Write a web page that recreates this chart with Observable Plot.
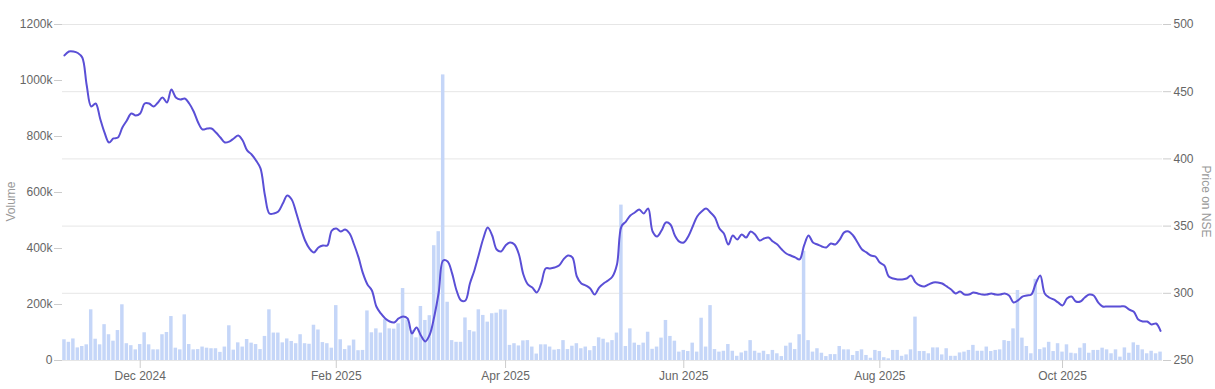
<!DOCTYPE html>
<html>
<head>
<meta charset="utf-8">
<script src="https://cdn.jsdelivr.net/npm/d3@7"></script>
<script src="https://cdn.jsdelivr.net/npm/@observablehq/plot@0.6"></script>
<style>
  html, body { margin: 0; padding: 0; background: #ffffff; }
  #chart { width: 1215px; height: 389px; }
</style>
</head>
<body>
<div id="chart"></div>
<script>
// ---- Trading calendar (categories) ----
const startDate = "2024-11-05";
const endDate = "2025-11-06";
const holidays = [
  "2024-11-15", "2024-11-20", "2024-12-25",
  "2025-02-26", "2025-03-14", "2025-03-31", "2025-04-10", "2025-04-14",
  "2025-04-18", "2025-05-01", "2025-08-15", "2025-08-27", "2025-10-02",
  "2025-10-21", "2025-10-22", "2025-11-05"
];

// ---- Daily traded volume (thousands of shares) ----
const volume = [
  74, 65, 77, 45, 50, 56, 181, 76, 56, 128,
  92, 69, 107, 199, 60, 53, 38, 57, 99, 56,
  38, 38, 92, 100, 157, 44, 38, 163, 57, 38,
  39, 48, 44, 42, 42, 29, 48, 124, 37, 63,
  48, 75, 62, 57, 39, 86, 181, 98, 98, 63,
  77, 68, 60, 92, 60, 58, 126, 109, 64, 60,
  44, 196, 74, 39, 52, 73, 35, 36, 177, 99,
  113, 98, 146, 113, 112, 131, 257, 145, 107, 81,
  193, 143, 160, 410, 460, 1020, 208, 71, 65, 65,
  152, 107, 102, 181, 161, 137, 167, 169, 181, 180,
  54, 60, 52, 70, 71, 48, 23, 56, 56, 48,
  37, 39, 71, 39, 51, 60, 42, 48, 35, 50,
  81, 76, 63, 71, 98, 555, 50, 113, 62, 54,
  62, 101, 40, 48, 80, 143, 86, 69, 30, 36,
  32, 62, 30, 151, 48, 196, 39, 30, 33, 57,
  33, 15, 27, 33, 71, 33, 26, 33, 21, 36,
  24, 14, 51, 62, 39, 92, 390, 71, 30, 42,
  26, 14, 21, 21, 50, 38, 38, 18, 32, 38,
  18, 8, 36, 32, 10, 6, 36, 36, 15, 20,
  38, 155, 32, 32, 24, 45, 45, 20, 42, 15,
  15, 27, 30, 36, 54, 33, 33, 48, 32, 36,
  38, 71, 68, 113, 250, 80, 50, 24, 290, 39,
  45, 65, 32, 60, 30, 56, 26, 24, 44, 60,
  26, 36, 36, 44, 38, 24, 38, 12, 45, 26,
  63, 54, 38, 24, 33, 24, 30
];

// ---- Closing price on NSE ----
const price = [
  477.0, 479.9, 479.9, 478.8, 475.4, 454.6, 439.0, 441.2, 430.1, 419.6,
  412.2, 415.2, 415.9, 423.4, 428.6, 433.8, 432.3, 433.8, 441.2, 441.2,
  439.0, 442.0, 445.7, 442.0, 451.6, 445.7, 444.2, 444.9, 441.2, 435.3,
  427.1, 421.9, 422.6, 422.6, 419.6, 415.9, 412.2, 412.9, 415.2, 417.4,
  413.7, 406.3, 403.3, 398.8, 392.9, 372.8, 359.4, 359.4, 360.9, 366.8,
  372.8, 369.8, 360.1, 349.0, 339.3, 333.3, 330.4, 334.1, 335.6, 335.6,
  346.7, 348.2, 346.0, 347.5, 344.5, 336.3, 326.7, 314.8, 306.6, 302.1,
  290.2, 285.0, 281.3, 279.0, 278.3, 281.3, 282.8, 281.3, 270.1, 274.6,
  268.6, 264.2, 269.4, 282.8, 300.6, 324.4, 323.7, 314.8, 302.1, 294.7,
  294.7, 307.3, 317.0, 328.9, 340.8, 349.0, 343.0, 332.6, 331.1, 335.6,
  337.8, 336.3, 328.9, 314.0, 306.6, 304.3, 300.6, 307.3, 318.5, 318.5,
  319.2, 320.7, 325.2, 328.1, 326.7, 312.5, 307.3, 305.8, 303.6, 299.1,
  304.3, 307.3, 309.5, 312.5, 321.4, 349.7, 353.4, 357.9, 360.1, 362.4,
  359.4, 363.1, 346.0, 342.3, 346.7, 352.7, 351.2, 343.0, 338.5, 337.8,
  342.3, 349.7, 357.2, 360.9, 363.1, 360.1, 356.4, 348.2, 344.5, 336.3,
  343.0, 340.0, 343.8, 341.5, 346.0, 343.8, 339.3, 340.8, 341.5, 338.5,
  336.3, 332.6, 329.6, 328.1, 326.7, 325.2, 335.6, 343.0, 337.8, 336.3,
  334.8, 334.1, 337.1, 336.3, 340.0, 345.3, 346.0, 343.0, 337.8, 332.6,
  330.4, 328.1, 327.4, 322.9, 320.7, 312.5, 311.0, 310.3, 310.3, 311.0,
  313.3, 308.1, 305.8, 305.1, 306.6, 308.1, 308.1, 307.3, 305.1, 302.8,
  299.9, 301.4, 299.1, 299.1, 300.6, 299.9, 299.1, 299.1, 299.9, 299.1,
  299.1, 299.9, 298.4, 293.2, 294.7, 297.6, 298.4, 299.1, 307.3, 313.3,
  299.9, 296.9, 295.4, 293.2, 290.9, 296.1, 297.6, 293.9, 293.9, 296.9,
  299.1, 298.4, 293.2, 290.2, 290.2, 290.2, 290.2, 290.2, 290.2, 287.8,
  286.3, 280.5, 279.0, 279.0, 276.8, 277.5, 272.0
];

// ---- Axis ticks and labels ----
const tickMonths = ["2024-12", "2025-02", "2025-04", "2025-06", "2025-08", "2025-10"];
const tickMonthLabels = ["Dec 2024", "Feb 2025", "Apr 2025", "Jun 2025", "Aug 2025", "Oct 2025"];
const volumeTicks = [0, 200, 400, 600, 800, 1000, 1200];
const priceTicks = [250, 300, 350, 400, 450, 500];
const volumeTitle = "Volume";
const priceTitle = "Price on NSE";

// ---- Build trading days ----
const days = [];
for (let d = new Date(startDate + "T00:00:00Z"); d <= new Date(endDate + "T00:00:00Z"); d.setUTCDate(d.getUTCDate() + 1)) {
  const dow = d.getUTCDay();
  const iso = d.toISOString().slice(0, 10);
  if (dow === 0 || dow === 6 || holidays.includes(iso)) continue;
  days.push(iso);
}
const n = Math.min(days.length, volume.length, price.length);
const rows = d3.range(n).map(i => ({date: days[i], volume: volume[i], price: price[i]}));

// price -> volume-scale mapping for the secondary axis
const volumeMax = volumeTicks[volumeTicks.length - 1];
const priceMin = priceTicks[0], priceMax = priceTicks[priceTicks.length - 1];
const toY = p => (p - priceMin) / (priceMax - priceMin) * volumeMax;
const fromY = v => priceMin + v / volumeMax * (priceMax - priceMin);

const tickDates = tickMonths.map(m => days.find(d => d.startsWith(m)));

const chart = Plot.plot({
  width: 1215,
  height: 389,
  marginLeft: 62,
  marginRight: 53,
  marginTop: 24,
  marginBottom: 29,
  style: {
    fontFamily: "'Liberation Sans', Arial, Helvetica, sans-serif",
    fontSize: "12px",
    background: "#ffffff",
    color: "#666666"
  },
  x: {type: "band", domain: days.slice(0, n), paddingInner: 0.22, paddingOuter: 0.05},
  y: {domain: [0, volumeMax]},
  marks: [
    Plot.gridY({ticks: priceTicks.map(toY), stroke: "#e6e6e6", strokeOpacity: 1, strokeWidth: 1}),
    Plot.barY(rows, {x: "date", y: "volume", fill: "#c5d6f8"}),
    Plot.line(rows, {x: "date", y: d => toY(d.price), stroke: "#5a4fd6", strokeWidth: 2, curve: "catmull-rom"}),
    Plot.axisY({
      anchor: "left", ticks: volumeTicks, label: null,
      tickFormat: v => v === 0 ? "0" : v + "k",
      tickSize: 8, tickPadding: 2, stroke: "#cccccc", fill: "#666666", fontSize: 12
    }),
    Plot.axisY({
      anchor: "right", ticks: priceTicks.map(toY), label: null,
      tickFormat: v => String(Math.round(fromY(v))),
      tickSize: 8, tickPadding: 3, stroke: "#cccccc", fill: "#666666", fontSize: 12
    }),
    Plot.axisX({
      ticks: tickDates, label: null,
      tickFormat: d => tickMonthLabels[tickDates.indexOf(d)],
      tickSize: 8, tickPadding: 3, stroke: "#cccccc", fill: "#666666", fontSize: 12
    }),
    Plot.text([volumeTitle], {
      text: d => d, frameAnchor: "left", rotate: -90, dx: -51, dy: 9,
      fill: "#999999", fontSize: 12, textAnchor: "middle", lineAnchor: "middle"
    }),
    Plot.text([priceTitle], {
      text: d => d, frameAnchor: "right", rotate: 90, dx: 43, dy: 9,
      fill: "#999999", fontSize: 12, textAnchor: "middle", lineAnchor: "middle"
    })
  ]
});

document.getElementById("chart").appendChild(chart);
</script>
</body>
</html>
